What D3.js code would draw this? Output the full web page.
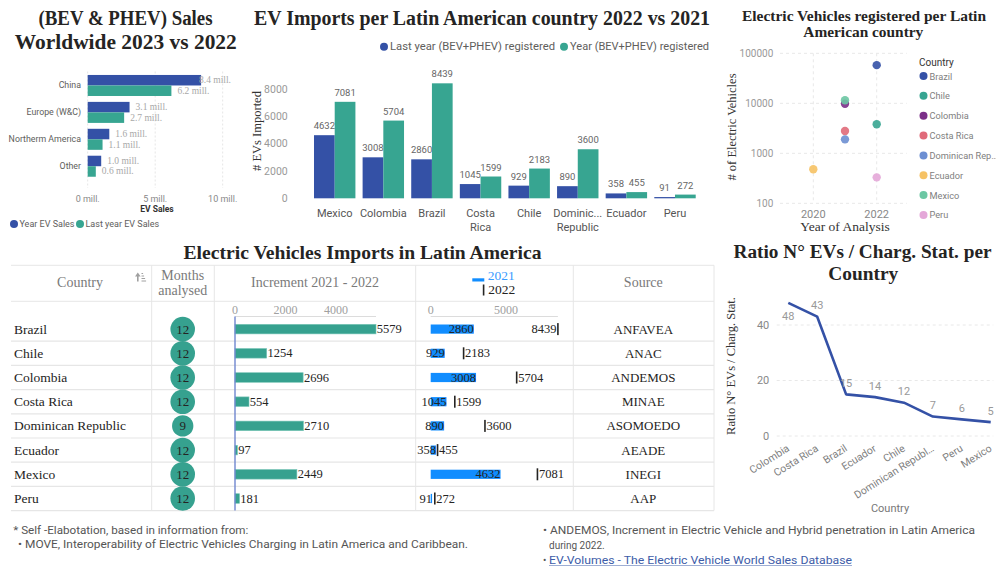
<!DOCTYPE html>
<html>
<head>
<meta charset="utf-8">
<script src="https://cdn.jsdelivr.net/npm/d3@7"></script>
<style>
  body { margin: 0; background: #ffffff; }
  svg { display: block; }
</style>
</head>
<body>
<svg id="dash" width="996" height="566"></svg>
<script>
// ---------- data ----------
// Worldwide BEV + PHEV sales, millions
const worldRegions = ["China", "Europe (W&C)", "Northerm America", "Other"];
const worldYearSales = [8.4, 3.1, 1.6, 1.0];
const worldLastYearSales = [6.2, 2.7, 1.1, 0.6];
const worldTicks = [0, 5, 10];

// EV imports per Latin American country
const importCountries = ["Mexico", "Colombia", "Brazil", "Costa Rica", "Chile", "Dominican Republic", "Ecuador", "Peru"];
const importAxisLabels = [["Mexico"], ["Colombia"], ["Brazil"], ["Costa", "Rica"], ["Chile"], ["Dominic...", "Republic"], ["Ecuador"], ["Peru"]];
const imports2021 = [4632, 3008, 2860, 1045, 929, 890, 358, 91];
const imports2022 = [7081, 5704, 8439, 1599, 2183, 3600, 455, 272];
const importTicks = [0, 2000, 4000, 6000, 8000];

// Electric vehicles registered per country
const regCountries = ["Brazil", "Chile", "Colombia", "Costa Rica", "Dominican Rep\u2026", "Ecuador", "Mexico", "Peru"];
const regYears = [2022, 2022, 2021, 2021, 2021, 2020, 2021, 2022];
const regVehicles = [58000, 3800, 9800, 2800, 1900, 480, 11500, 330];
const regColors = ["#3451a6", "#37a591", "#7b2f88", "#e06a79", "#6d8fd2", "#f6c264", "#6cc7a3", "#e4a7d8"];
const regValueTicks = [100, 1000, 10000, 100000];
const regYearTicks = [2020, 2022];

// Imports table
const tableCountries = ["Brazil", "Chile", "Colombia", "Costa Rica", "Dominican Republic", "Ecuador", "Mexico", "Peru"];
const tableMonths = [12, 12, 12, 12, 9, 12, 12, 12];
const tableIncrement = [5579, 1254, 2696, 554, 2710, 97, 2449, 181];
const table2021 = [2860, 929, 3008, 1045, 890, 358, 4632, 91];
const table2022 = [8439, 2183, 5704, 1599, 3600, 455, 7081, 272];
const tableSources = ["ANFAVEA", "ANAC", "ANDEMOS", "MINAE", "ASOMOEDO", "AEADE", "INEGI", "AAP"];
const incrementTicks = [0, 2000, 4000];
const bulletTicks = [0, 5000];

// Ratio of EVs per charging station
const ratioCountries = ["Colombia", "Costa Rica", "Brazil", "Ecuador", "Chile", "Dominican Republ\u2026", "Peru", "Mexico"];
const ratioValues = [48, 43, 15, 14, 12, 7, 6, 5];
const ratioTicks = [0, 20, 40];

// ---------- helpers ----------
const SERIF = '"Liberation Serif", "DejaVu Serif", serif';
const SANS = 'Roboto, "Noto Sans", "DejaVu Sans", sans-serif';
const BLUE = "#3451a6";
const TEAL = "#37a591";

const svg = d3.select("#dash");
svg.append("rect").attr("width", 996).attr("height", 566).attr("fill", "#ffffff");

function text(g, o) {
  const t = g.append("text")
    .attr("x", o.x).attr("y", o.y)
    .attr("font-family", o.family || SANS)
    .attr("font-size", o.size || 10)
    .attr("font-weight", o.weight || "normal")
    .attr("fill", o.fill || "#333")
    .attr("text-anchor", o.anchor || "start")
    .text(o.text);
  if (o.middle) t.attr("dominant-baseline", "central");
  if (o.len) t.attr("textLength", o.len).attr("lengthAdjust", "spacingAndGlyphs");
  if (o.rotate) t.attr("transform", `rotate(${o.rotate},${o.x},${o.y})`);
  return t;
}
function title(g, x, y, s, size, len) {
  return text(g, { x, y, text: s, size, family: SERIF, weight: "bold", fill: "#252423", anchor: "middle", len });
}

// ---------- worldwide sales (horizontal grouped bars) ----------
{
  const g = svg.append("g");
  title(g, 125.5, 25, "(BEV & PHEV) Sales", 20, 174);
  title(g, 125.8, 48.5, "Worldwide 2023 vs 2022", 20, 222);

  const x = d3.scaleLinear().domain([0, 10]).range([87.7, 222.7]);
  const y = d3.scaleBand().domain(worldRegions).range([72, 179.7]).paddingInner(0.219).paddingOuter(0.11);
  const s = d3.scaleBand().domain(["year", "last"]).range([0, y.bandwidth()]);
  const rows = worldRegions.map((r, i) => ({ r, year: worldYearSales[i], last: worldLastYearSales[i] }));

  g.selectAll("line.grid").data(worldTicks).join("line").attr("class", "grid")
    .attr("x1", d => x(d)).attr("x2", d => x(d)).attr("y1", 71.5).attr("y2", 188)
    .attr("stroke", "#e6e6e6").attr("stroke-dasharray", "2,2");

  const series = [{ key: "year", color: BLUE }, { key: "last", color: TEAL }];
  series.forEach(se => {
    g.selectAll(null).data(rows).join("rect")
      .attr("x", x(0)).attr("y", d => y(d.r) + s(se.key))
      .attr("width", d => x(d[se.key]) - x(0)).attr("height", s.bandwidth())
      .attr("fill", se.color);
    g.selectAll(null).data(rows).join("text")
      .attr("font-family", SERIF).attr("font-size", 9.5).attr("fill", "#a8a8a8")
      .attr("y", d => y(d.r) + s(se.key) + s.bandwidth() / 2).attr("dominant-baseline", "central")
      .text(d => d[se.key].toFixed(1) + " mill.")
      .attr("x", function (d) {
        const w = this.getComputedTextLength();
        return Math.min(x(d[se.key]) + 6, 231 - w);
      });
  });

  g.selectAll(null).data(worldRegions).join("text")
    .attr("x", 81).attr("y", d => y(d) + y.bandwidth() / 2).attr("dominant-baseline", "central")
    .attr("text-anchor", "end").attr("font-family", SANS).attr("font-size", 8.8).attr("fill", "#605e5c")
    .text(d => d);

  g.selectAll(null).data(worldTicks).join("text")
    .attr("x", d => x(d)).attr("y", 201.5).attr("text-anchor", "middle")
    .attr("font-family", SANS).attr("font-size", 9).attr("fill", "#888")
    .text(d => d + " mill.");
  text(g, { x: 157, y: 211.5, text: "EV Sales", size: 8.5, weight: "bold", fill: "#333", anchor: "middle" });

  const legend = [{ t: "Year EV Sales", c: BLUE, x: 14 }, { t: "Last year EV Sales", c: TEAL, x: 80 }];
  legend.forEach(l => {
    g.append("circle").attr("cx", l.x).attr("cy", 224).attr("r", 4).attr("fill", l.c);
    text(g, { x: l.x + 5.5, y: 224, text: l.t, size: 9, fill: "#605e5c", middle: true });
  });
}

// ---------- imports per country (vertical grouped bars) ----------
{
  const g = svg.append("g");
  title(g, 482, 25, "EV Imports per Latin American country 2022 vs 2021", 20, 456);

  const legend = [
    { t: "Last year (BEV+PHEV) registered", c: BLUE, x: 384, len: 165 },
    { t: "Year (BEV+PHEV) registered", c: TEAL, x: 564, len: 139 }
  ];
  legend.forEach(l => {
    g.append("circle").attr("cx", l.x).attr("cy", 46.7).attr("r", 4).attr("fill", l.c);
    text(g, { x: l.x + 6, y: 46.7, text: l.t, size: 10.5, fill: "#605e5c", middle: true, len: l.len });
  });

  const x = d3.scaleBand().domain(importCountries).range([310.4, 699.3]).paddingInner(0.148).paddingOuter(0.074);
  const s = d3.scaleBand().domain(["y2021", "y2022"]).range([0, x.bandwidth()]);
  const y = d3.scaleLinear().domain([0, 8000]).range([198.3, 89.3]);
  const rows = importCountries.map((c, i) => ({ c, y2021: imports2021[i], y2022: imports2022[i] }));

  g.selectAll(null).data(importTicks).join("text")
    .attr("x", 287.7).attr("y", d => y(d)).attr("dominant-baseline", "central").attr("text-anchor", "end")
    .attr("font-family", SANS).attr("font-size", 10.5).attr("fill", "#999")
    .text(d => d);
  text(g, { x: 261, y: 131, text: "# EVs Imported", size: 12.5, family: SERIF, fill: "#333", anchor: "middle", rotate: -90 });

  [{ key: "y2021", color: BLUE }, { key: "y2022", color: TEAL }].forEach(se => {
    g.selectAll(null).data(rows).join("rect")
      .attr("x", d => x(d.c) + s(se.key)).attr("y", d => y(d[se.key]))
      .attr("width", s.bandwidth()).attr("height", d => y(0) - y(d[se.key]))
      .attr("fill", se.color);
    g.selectAll(null).data(rows).join("text")
      .attr("x", d => x(d.c) + s(se.key) + s.bandwidth() / 2).attr("y", d => y(d[se.key]) - 6)
      .attr("text-anchor", "middle").attr("font-family", SANS).attr("font-size", 9.5).attr("fill", "#666")
      .text(d => d[se.key]);
  });

  importCountries.forEach((c, i) => {
    importAxisLabels[i].forEach((line, j) => {
      text(g, { x: x(c) + x.bandwidth() / 2, y: 217 + j * 14, text: line, size: 11, fill: "#555", anchor: "middle" });
    });
  });
}

// ---------- registered vehicles (log scatter) ----------
{
  const g = svg.append("g");
  title(g, 864, 20.5, "Electric Vehicles registered per Latin", 14.5, 244);
  title(g, 863.3, 36.5, "American country", 14.5, 120);

  const x = d3.scaleLinear().domain([2019, 2023]).range([781.6, 908.4]);
  const y = d3.scaleLog().domain([100, 100000]).range([203.3, 53.3]);

  g.selectAll(null).data(regValueTicks).join("line")
    .attr("x1", 780).attr("x2", 906.7).attr("y1", d => y(d)).attr("y2", d => y(d))
    .attr("stroke", "#e8e8e8").attr("stroke-dasharray", "3,3");
  g.selectAll(null).data(regYearTicks).join("line")
    .attr("x1", d => x(d)).attr("x2", d => x(d)).attr("y1", 53.3).attr("y2", 203.3)
    .attr("stroke", "#e8e8e8").attr("stroke-dasharray", "3,3");

  g.selectAll(null).data(regValueTicks).join("text")
    .attr("x", 773.3).attr("y", d => y(d)).attr("dominant-baseline", "central").attr("text-anchor", "end")
    .attr("font-family", SANS).attr("font-size", 10).attr("fill", "#999").text(d => d);
  g.selectAll(null).data(regYearTicks).join("text")
    .attr("x", d => x(d)).attr("y", 217.5).attr("text-anchor", "middle")
    .attr("font-family", SANS).attr("font-size", 11).attr("fill", "#888").text(d => d);

  text(g, { x: 736, y: 127, text: "# of Electric Vehicles", size: 12.5, family: SERIF, fill: "#333", anchor: "middle", rotate: -90 });
  text(g, { x: 845, y: 231, text: "Year of Analysis", size: 13.5, family: SERIF, fill: "#333", anchor: "middle" });

  const pts = regCountries.map((c, i) => ({ c, year: regYears[i], v: regVehicles[i], color: regColors[i] }));
  g.selectAll(null).data(pts).join("circle")
    .attr("cx", d => x(d.year)).attr("cy", d => y(d.v)).attr("r", 4.2)
    .attr("fill", d => d.color).attr("fill-opacity", 0.9);

  text(g, { x: 919, y: 62, text: "Country", size: 10, fill: "#333", middle: true });
  pts.forEach((d, i) => {
    const cy = 76 + i * 19.85;
    g.append("circle").attr("cx", 923.5).attr("cy", cy).attr("r", 4).attr("fill", d.color);
    text(g, { x: 929.5, y: cy, text: d.c, size: 9.2, fill: "#808080", middle: true });
  });
}

// ---------- imports table ----------
{
  const g = svg.append("g");
  title(g, 362.5, 258.5, "Electric Vehicles Imports in Latin America", 19.5, 358);

  const left = 11, right = 714;
  const cols = [151.7, 214.3, 415.7, 573.3];
  const rowTop = 317, rowStep = 24.2;
  const rowY = i => rowTop + rowStep * i + rowStep / 2;
  const LINE = "#e6e6e6";

  // grid lines
  [265.3, 301.3].forEach(yy => g.append("line").attr("x1", left).attr("x2", right).attr("y1", yy).attr("y2", yy).attr("stroke", LINE));
  tableCountries.forEach((c, i) => {
    const yy = rowTop + rowStep * (i + 1);
    g.append("line").attr("x1", left).attr("x2", right).attr("y1", yy).attr("y2", yy).attr("stroke", LINE).attr("stroke-width", 1.2);
  });
  cols.concat([right]).forEach(cx => g.append("line").attr("x1", cx).attr("x2", cx).attr("y1", 265.3).attr("y2", rowTop + rowStep * 8).attr("stroke", LINE));

  // header
  const H = { family: SERIF, size: 14, fill: "#7a7a7a", anchor: "middle", middle: true };
  text(g, Object.assign({}, H, { x: 80, y: 282.3, text: "Country" }));
  text(g, Object.assign({}, H, { x: 182.7, y: 275.7, text: "Months" }));
  text(g, Object.assign({}, H, { x: 182.7, y: 290.3, text: "analysed" }));
  text(g, Object.assign({}, H, { x: 315, y: 282.3, text: "Increment 2021 - 2022" }));
  text(g, Object.assign({}, H, { x: 643.3, y: 282.3, text: "Source" }));
  // sort indicator
  const icon = g.append("g").attr("stroke", "#a0a0a0").attr("fill", "#a0a0a0");
  icon.append("line").attr("x1", 137.8).attr("x2", 137.8).attr("y1", 275).attr("y2", 281.5).attr("stroke-width", 1.6);
  icon.append("path").attr("d", "M135 276.5 L137.8 272.5 L140.6 276.5 Z").attr("stroke", "none");
  [[273.5, 1.6], [276, 2.6], [278.5, 3.6], [281, 4.6]].forEach(([yy, w]) =>
    icon.append("line").attr("x1", 141.5).attr("x2", 141.5 + w).attr("y1", yy).attr("y2", yy).attr("stroke-width", 1));
  // bullet legend
  g.append("rect").attr("x", 472.3).attr("y", 278.3).attr("width", 12).attr("height", 3.2).attr("fill", "#118dff");
  text(g, { x: 487.7, y: 275.5, text: "2021", size: 13.5, family: SERIF, fill: "#3a9bff", middle: true });
  g.append("rect").attr("x", 482.8).attr("y", 284.5).attr("width", 1.6).attr("height", 11).attr("fill", "#252423");
  text(g, { x: 488.3, y: 289.8, text: "2022", size: 13.5, family: SERIF, fill: "#252423", middle: true });

  // increment bars
  const xi = d3.scaleLinear().domain([0, d3.max(tableIncrement)]).range([235, 376]);
  g.selectAll(null).data(incrementTicks).join("text")
    .attr("x", d => xi(d)).attr("y", 309.5).attr("text-anchor", "middle").attr("dominant-baseline", "central")
    .attr("font-family", SERIF).attr("font-size", 12).attr("fill", "#a0a0a0").text(d => d);
  g.append("line").attr("x1", xi(0)).attr("x2", xi.range()[1]).attr("y1", 316.5).attr("y2", 316.5).attr("stroke", "#dcdcdc");

  // bullet scale
  const xb = d3.scaleLinear().domain([0, d3.max(table2022)]).range([430.7, 557.9]);
  g.selectAll(null).data(bulletTicks).join("text")
    .attr("x", d => xb(d)).attr("y", 309.5).attr("text-anchor", "middle").attr("dominant-baseline", "central")
    .attr("font-family", SERIF).attr("font-size", 12).attr("fill", "#a0a0a0").text(d => d);
  g.append("line").attr("x1", xb(0)).attr("x2", xb.range()[1]).attr("y1", 316.5).attr("y2", 316.5).attr("stroke", "#dcdcdc");

  const r = d3.scaleSqrt().domain([0, 12]).range([0, 12.3]);
  const B = { family: SERIF, size: 13.5, fill: "#252423", middle: true };

  tableCountries.forEach((c, i) => {
    const cy = rowY(i);
    text(g, Object.assign({}, B, { x: 14, y: cy, text: c }));
    g.append("circle").attr("cx", 182.7).attr("cy", cy).attr("r", r(tableMonths[i])).attr("fill", "#36a18f");
    text(g, Object.assign({}, B, { x: 182.7, y: cy, text: tableMonths[i], anchor: "middle", size: 13 }));

    g.append("rect").attr("x", xi(0)).attr("y", cy - 4.8).attr("width", xi(tableIncrement[i]) - xi(0)).attr("height", 9.6)
      .attr("fill", "#36a18f").attr("stroke", "#7cc6b8").attr("stroke-width", 0.6);
    text(g, Object.assign({}, B, { x: xi(tableIncrement[i]) + 0.8, y: cy, text: tableIncrement[i], size: 12.5 }));

    g.append("rect").attr("x", xb(0)).attr("y", cy - 4.6).attr("width", xb(table2021[i]) - xb(0)).attr("height", 9.2)
      .attr("fill", "#118dff");
    text(g, Object.assign({}, B, { x: xb(table2021[i]), y: cy, text: table2021[i], size: 12.5, anchor: "end" }));
    const mx = xb(table2022[i]);
    g.append("rect").attr("x", mx - 0.8).attr("y", cy - 6).attr("width", 1.6).attr("height", 12).attr("fill", "#252423");
    const lab = text(g, Object.assign({}, B, { x: mx + 1.5, y: cy, text: table2022[i], size: 12.5 }));
    if (mx + 1.5 + lab.node().getComputedTextLength() > cols[3] - 3) {
      lab.attr("x", mx - 1.5).attr("text-anchor", "end");
    }

    text(g, Object.assign({}, B, { x: 643.3, y: cy, text: tableSources[i], anchor: "middle", size: 13 }));
  });

  // zero line of the increment column
  g.append("line").attr("x1", xi(0)).attr("x2", xi(0)).attr("y1", 316.5).attr("y2", rowTop + rowStep * 8)
    .attr("stroke", "#6f86cf").attr("stroke-width", 1.4);
}

// ---------- ratio EVs / charging stations (line) ----------
{
  const g = svg.append("g");
  title(g, 862.5, 257.7, "Ratio N\u00b0 EVs / Charg. Stat. per", 18.5, 258);
  title(g, 863.3, 280, "Country", 18.5, 70);

  const x = d3.scalePoint().domain(ratioCountries).range([788.3, 990.7]);
  const y = d3.scaleLinear().domain([0, 40]).range([436, 325]);

  g.selectAll(null).data(ratioTicks).join("line")
    .attr("x1", 776.7).attr("x2", 993.3).attr("y1", d => y(d)).attr("y2", d => y(d))
    .attr("stroke", "#e8e8e8").attr("stroke-dasharray", "3,3");
  g.selectAll(null).data(ratioTicks).join("text")
    .attr("x", 769.3).attr("y", d => y(d)).attr("dominant-baseline", "central").attr("text-anchor", "end")
    .attr("font-family", SANS).attr("font-size", 11).attr("fill", "#888").text(d => d);

  const pts = ratioCountries.map((c, i) => ({ c, v: ratioValues[i] }));
  g.append("path").datum(pts)
    .attr("d", d3.line().x(d => x(d.c)).y(d => y(d.v)))
    .attr("fill", "none").attr("stroke", "#3451a6").attr("stroke-width", 2.6).attr("stroke-linejoin", "round");

  g.selectAll(null).data(pts).join("text")
    .attr("x", d => x(d.c)).attr("y", (d, i) => i === 0 ? y(d.v) + 17 : y(d.v) - 7.5)
    .attr("text-anchor", "middle").attr("font-family", SANS).attr("font-size", 11).attr("fill", "#999")
    .text(d => d.v);

  g.selectAll(null).data(ratioCountries).join("text")
    .attr("transform", d => `translate(${x(d) - 2},${444}) rotate(-32)`)
    .attr("text-anchor", "end").attr("dy", "0.7em")
    .attr("font-family", SANS).attr("font-size", 10.5).attr("fill", "#808080").text(d => d);

  text(g, { x: 890, y: 512, text: "Country", size: 11, fill: "#777", anchor: "middle" });
  text(g, { x: 734.5, y: 366, text: "Ratio N\u00b0 EVs / Charg. Stat.", size: 12.5, family: SERIF, fill: "#333", anchor: "middle", rotate: -90 });
}

// ---------- footnotes ----------
{
  const g = svg.append("g");
  const F = { size: 10, fill: "#555" };
  text(g, Object.assign({}, F, { x: 13.3, y: 530, text: "* Self -Elabotation, based in information from:", middle: true, len: 235 }));
  text(g, Object.assign({}, F, { x: 18, y: 544.5, text: "\u2022 MOVE, Interoperability of Electric Vehicles Charging in Latin America and Caribbean.", middle: true, len: 450 }));
  text(g, Object.assign({}, F, { x: 543, y: 530, text: "\u2022 ANDEMOS, Increment in Electric Vehicle and Hybrid penetration in Latin America", middle: true, len: 432 }));
  text(g, Object.assign({}, F, { x: 549, y: 545, text: "during 2022.", middle: true }));
  text(g, Object.assign({}, F, { x: 543, y: 560, text: "\u2022 ", middle: true }));
  text(g, Object.assign({}, F, { x: 549, y: 560, text: "EV-Volumes - The Electric Vehicle World Sales Database", middle: true, fill: "#3d5ca8", len: 303 }))
    .attr("text-decoration", "underline");
}
</script>
</body>
</html>
